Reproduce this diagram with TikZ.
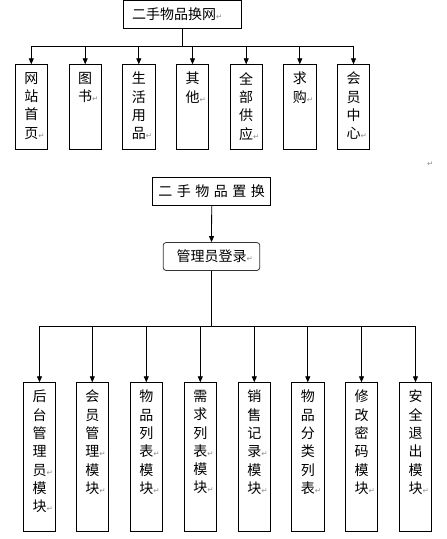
\documentclass[tikz,border=0pt]{standalone}
\usepackage{fontspec}
\usepackage{tikz}
\usetikzlibrary{arrows.meta,positioning}
\newfontfamily\cjk{Noto Sans CJK SC}
\newfontfamily\symb{DejaVu Sans}
\newcommand{\ret}{\rlap{\symb\fontsize{7.5}{7.5}\selectfont\textcolor{black!45}{↵}}}
\newcommand{\colstack}[2]{\parbox[c][#1][t]{30pt}{\centering\vspace*{7.5pt}#2}}

\tikzset{
	hanzi/.style={font=\cjk\fontsize{14}{18.3}\selectfont},
	titlebox/.style={draw, hanzi, line width=0.8pt, inner ysep=0pt, minimum height=28pt},
	colbox/.style={draw, hanzi, line width=0.8pt, inner xsep=1pt, inner ysep=0pt, minimum width=32.5pt, anchor=north},
	link/.style={-{Triangle[length=6pt,width=5pt]}, line width=0.8pt}
}

\begin{document}
\begin{tikzpicture}[x=1pt, y=-1pt]
			%%%%% START %%%%%
			\useasboundingbox (0, 0) rectangle (447, 539);
			
			% first chart
			\node[titlebox, text width=100pt, align=left, inner xsep=9pt] (web) at (182, 14) {二手物品换网\ret};
			
			\node[colbox] (home) at (31.3, 64.3) {\colstack{84.4pt}{网\\站\\首\\页\ret}};
			\node[colbox] (book) at (85.2, 64.3) {\colstack{84.4pt}{图\\书\ret}};
			\node[colbox] (life) at (138.8, 64.3) {\colstack{84.4pt}{生\\活\\用\\品\ret}};
			\node[colbox] (other) at (192.5, 64.3) {\colstack{84.4pt}{其\\他\ret}};
			\node[colbox] (supply) at (246.2, 64.3) {\colstack{84.4pt}{全\\部\\供\\应\ret}};
			\node[colbox] (wanted) at (299.8, 64.3) {\colstack{84.4pt}{求\\购\ret}};
			\node[colbox] (member) at (353.5, 64.3) {\colstack{84.4pt}{会\\员\\中\\心\ret}};
			
			\draw[link] (web.south) -- ++(0, 18) -| (home.north);
			\draw[link] (web.south) -- ++(0, 18) -| (book.north);
			\draw[link] (web.south) -- ++(0, 18) -| (life.north);
			\draw[link] (web.south) -- ++(0, 18) -| (other.north);
			\draw[link] (web.south) -- ++(0, 18) -| (supply.north);
			\draw[link] (web.south) -- ++(0, 18) -| (wanted.north);
			\draw[link] (web.south) -- ++(0, 18) -| (member.north);
			
			\node[anchor=base] (mark) at (427, 166) {\ret};
			
			% second chart
			\node[titlebox, minimum width=118pt] (swap) at (211.7, 191.2) {二\hspace{4.5pt}手\hspace{4.5pt}物\hspace{4.5pt}品\hspace{4.5pt}置\hspace{4.5pt}换};
			\node[titlebox, rounded corners=3pt, minimum width=96.6pt, draw=black!80] (login) at (211.5, 256.5) {管理员登录\ret\hspace{7pt}};
			\draw[link] (swap.south) -- (login.north);
			
			\node[colbox] (backend) at (39.5, 382.3) {\colstack{149pt}{后\\台\\管\\理\\员\ret\\模\\块\ret}};
			\node[colbox] (members) at (92.3, 382.3) {\colstack{149pt}{会\\员\\管\\理\ret\\模\\块\ret}};
			\node[colbox] (items) at (146.3, 382.3) {\colstack{149pt}{物\\品\\列\\表\ret\\模\\块\ret}};
			\node[colbox] (needs) at (200.3, 382.3) {\colstack{149pt}{需\\求\\列\\表\ret\\模\\块\ret}};
			\node[colbox] (sales) at (254.3, 382.3) {\colstack{149pt}{销\\售\\记\\录\ret\\模\\块\ret}};
			\node[colbox] (kinds) at (307.8, 382.3) {\colstack{149pt}{物\\品\\分\\类\\列\\表\ret}};
			\node[colbox] (passwd) at (361.5, 382.3) {\colstack{149pt}{修\\改\\密\\码\\模\\块\ret}};
			\node[colbox] (logout) at (415.5, 382.3) {\colstack{149pt}{安\\全\\退\\出\\模\\块\ret}};
			
			\draw[link] (login.south) -- ++(0, 55.5) -| (backend.north);
			\draw[link] (login.south) -- ++(0, 55.5) -| (members.north);
			\draw[link] (login.south) -- ++(0, 55.5) -| (items.north);
			\draw[link] (login.south) -- ++(0, 55.5) -| (needs.north);
			\draw[link] (login.south) -- ++(0, 55.5) -| (sales.north);
			\draw[link] (login.south) -- ++(0, 55.5) -| (kinds.north);
			\draw[link] (login.south) -- ++(0, 55.5) -| (passwd.north);
			\draw[link] (login.south) -- ++(0, 55.5) -| (logout.north);
			
			%%%%% END %%%%%
\end{tikzpicture}
\end{document}
